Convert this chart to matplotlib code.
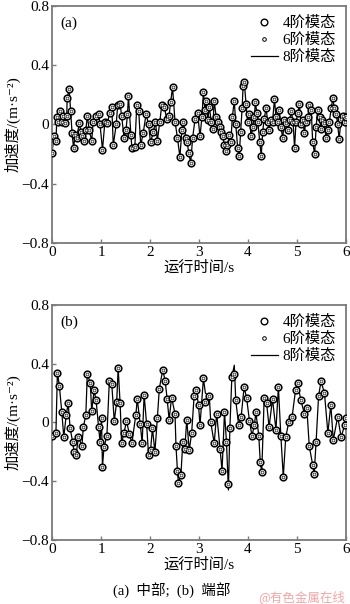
import numpy as np
import matplotlib
matplotlib.use("Agg")
import matplotlib.pyplot as plt
from matplotlib.lines import Line2D

plt.rcParams['font.family'] = ['Liberation Serif', 'Noto Sans CJK SC', 'DejaVu Sans']
plt.rcParams['axes.unicode_minus'] = True

# (a) 中部 acceleration, t in s, a in m/s^2
t_mid = [0.00, 0.04, 0.08, 0.10, 0.13, 0.16, 0.20, 0.23, 0.27, 0.30, 0.31, 0.35, 0.38, 0.41,
         0.44, 0.47, 0.50, 0.56, 0.59, 0.62, 0.65, 0.69, 0.72, 0.76, 0.81, 0.84, 0.90, 0.95,
         0.98, 1.03, 1.08, 1.13, 1.18, 1.22, 1.25, 1.31, 1.34, 1.39, 1.42, 1.47, 1.51, 1.54,
         1.56, 1.61, 1.63, 1.69, 1.73, 1.77, 1.81, 1.86, 1.92, 1.97, 2.01, 2.07, 2.11, 2.15,
         2.20, 2.24, 2.29, 2.34, 2.39, 2.42, 2.46, 2.51, 2.56, 2.61, 2.65, 2.68, 2.73, 2.76,
         2.79, 2.83, 2.87, 2.92, 2.97, 3.02, 3.06, 3.09, 3.12, 3.14, 3.18, 3.21, 3.25, 3.28,
         3.31, 3.35, 3.38, 3.42, 3.45, 3.48, 3.52, 3.55, 3.58, 3.62, 3.65, 3.68, 3.72, 3.75,
         3.79, 3.82, 3.85, 3.88, 3.90, 3.92, 3.96, 3.99, 4.03, 4.06, 4.10, 4.13, 4.15, 4.18,
         4.20, 4.24, 4.27, 4.30, 4.33, 4.37, 4.40, 4.43, 4.46, 4.50, 4.54, 4.57, 4.61, 4.64,
         4.67, 4.71, 4.74, 4.78, 4.81, 4.85, 4.88, 4.92, 4.95, 4.98, 5.02, 5.05, 5.08, 5.12,
         5.15, 5.18, 5.22, 5.25, 5.29, 5.32, 5.36, 5.39, 5.42, 5.46, 5.49, 5.52, 5.56, 5.59,
         5.63, 5.66, 5.70, 5.73, 5.76, 5.80, 5.83, 5.86, 5.90, 5.93, 5.97, 6.00]
a_mid = [-0.19, -0.08, -0.11, 0.05, 0.02, 0.09, 0.02, 0.06, 0.01, 0.06, 0.18, 0.24, 0.09, -0.06,
         -0.16, -0.07, -0.09, 0.01, -0.05, -0.08, -0.11, -0.04, 0.06, -0.04, -0.11, 0.02, 0.06, 0.07,
         0.00, -0.17, 0.02, 0.01, 0.08, 0.12, -0.14, 0.00, 0.13, 0.14, 0.06, -0.09, -0.04, 0.07,
         0.19, -0.07, -0.16, -0.15, 0.13, 0.09, -0.14, -0.06, 0.07, 0.00, -0.12, -0.05, 0.02, -0.11,
         0.02, 0.13, 0.12, 0.04, 0.06, 0.15, 0.25, 0.02, -0.09, -0.22, -0.04, 0.02, -0.09, -0.12,
         -0.19, -0.26, -0.09, 0.04, 0.08, -0.08, 0.05, 0.22, 0.10, 0.16, 0.03, 0.12, 0.02, -0.03,
         0.16, 0.05, 0.02, -0.02, -0.05, -0.08, -0.14, -0.18, -0.14, -0.07, -0.12, 0.05, 0.16, 0.00,
         -0.16, -0.21, -0.05, 0.11, 0.26, 0.29, 0.14, 0.02, 0.07, -0.08, -0.02, 0.05, 0.15, 0.08,
         0.02, -0.12, -0.21, -0.05, 0.04, 0.11, 0.02, -0.04, 0.03, 0.02, 0.17, 0.05, 0.02, 0.10,
         -0.02, -0.09, 0.03, 0.01, -0.04, 0.03, 0.09, 0.02, -0.16, 0.02, 0.08, 0.14, 0.00, 0.03,
         -0.06, 0.02, 0.05, 0.13, 0.10, -0.12, -0.20, -0.02, 0.10, 0.05, -0.03, 0.03, 0.01, -0.09,
         -0.04, 0.02, 0.11, 0.18, 0.11, 0.07, 0.00, -0.10, 0.04, 0.06, 0.02, 0.05]

# (b) 端部 acceleration
t_end = [0.00, 0.08, 0.11, 0.15, 0.20, 0.24, 0.29, 0.33, 0.37, 0.42, 0.45, 0.49, 0.54, 0.61,
         0.64, 0.69, 0.72, 0.78, 0.81, 0.86, 0.90, 0.95, 0.98, 1.01, 1.03, 1.06, 1.12, 1.17,
         1.22, 1.27, 1.32, 1.35, 1.39, 1.42, 1.47, 1.52, 1.58, 1.63, 1.71, 1.74, 1.80, 1.84,
         1.88, 1.93, 1.97, 2.01, 2.05, 2.10, 2.15, 2.19, 2.26, 2.31, 2.35, 2.39, 2.44, 2.51,
         2.53, 2.56, 2.58, 2.63, 2.67, 2.71, 2.75, 2.80, 2.85, 2.90, 2.94, 2.99, 3.02, 3.09,
         3.13, 3.21, 3.24, 3.31, 3.36, 3.43, 3.47, 3.52, 3.56, 3.60, 3.63, 3.67, 3.72, 3.75,
         3.81, 3.86, 3.92, 3.97, 4.03, 4.08, 4.13, 4.16, 4.22, 4.25, 4.28, 4.33, 4.38, 4.43,
         4.50, 4.57, 4.62, 4.67, 4.72, 4.77, 4.83, 4.90, 4.97, 5.01, 5.08, 5.15, 5.20, 5.25,
         5.32, 5.35, 5.39, 5.44, 5.49, 5.56, 5.63, 5.69, 5.74, 5.83, 5.90, 5.97, 6.00]
a_end = [-0.09, -0.07, 0.34, 0.25, 0.07, -0.10, 0.05, 0.13, -0.04, -0.13, -0.20, -0.22, -0.10, -0.16,
         -0.03, 0.05, 0.33, 0.27, 0.08, 0.22, 0.15, -0.03, -0.13, 0.03, -0.30, -0.17, -0.09, 0.28,
         0.26, 0.01, 0.14, 0.37, 0.13, -0.14, -0.07, 0.01, -0.08, -0.14, 0.05, 0.16, -0.01, -0.14,
         0.19, -0.01, -0.22, -0.19, -0.04, -0.20, 0.03, 0.23, 0.36, 0.28, 0.16, 0.02, 0.17, 0.06,
         -0.16, -0.33, -0.41, -0.36, -0.13, -0.18, 0.02, -0.19, -0.07, 0.18, 0.22, 0.12, -0.02, 0.30,
         0.14, 0.18, 0.00, -0.14, 0.06, -0.18, -0.33, 0.07, -0.13, -0.42, -0.04, 0.31, 0.33, 0.15,
         -0.02, 0.04, 0.24, 0.17, 0.01, -0.09, -0.02, 0.07, -0.09, -0.27, -0.34, 0.17, 0.13, -0.03,
         0.16, -0.05, 0.24, -0.09, -0.37, -0.10, 0.00, 0.04, 0.22, 0.27, 0.15, 0.06, 0.10, -0.16,
         -0.29, -0.35, -0.13, 0.18, 0.28, 0.20, -0.07, 0.12, -0.12, 0.04, -0.10, -0.02, 0.03]

# 8阶 curve overshoots the lower-order markers at a few spikes
peak8_mid = {3.92: 0.30}
peak8_end = {3.60: -0.46, 3.72: 0.39, 3.13: 0.20}

yticks = [-0.8, -0.4, 0, 0.4, 0.8]
ytick_labels = ['\u22120.8', '\u22120.4', '0', '0.4', '0.8']
xticks = [0, 1, 2, 3, 4, 5, 6]

fig = plt.figure(figsize=(3.5, 6.04), dpi=100)
ax1 = fig.add_axes([0.1486, 0.5977, 0.84, 0.3924])
ax2 = fig.add_axes([0.1486, 0.106, 0.84, 0.389])

frame_c = '#7a7a7a'


def draw(ax, t, a, peaks, tag):
    t = np.array(t)
    a = np.array(a)
    a8 = a.copy()
    for tp, v in peaks.items():
        a8[np.argmin(np.abs(t - tp))] = v
    ax.plot(t, a8, color='black', lw=0.9, zorder=2)
    ax.plot(t, a, ls='none', marker='o', ms=4.8, mfc='white', mec='black', mew=1.1, zorder=3)
    ax.plot(t, a, ls='none', marker='o', ms=2.0, mfc='white', mec='#333333', mew=0.6, zorder=4)
    ax.set_xlim(0, 6)
    ax.set_ylim(-0.8, 0.8)
    ax.set_xticks(xticks)
    ax.set_xticklabels([str(x) for x in xticks], fontsize=11)
    ax.set_yticks(yticks)
    ax.set_yticklabels(ytick_labels, fontsize=11)
    ax.tick_params(direction='in', length=3, width=1, color=frame_c, pad=2)
    for s in ax.spines.values():
        s.set_color(frame_c)
        s.set_linewidth(1.3)
    ax.set_xlabel('运行时间/s', fontsize=11, labelpad=1)
    ax.set_ylabel('加速度/(m·s\u207b\u00b2)', fontsize=11, labelpad=1)
    ax.text(0.03, 0.955, tag, transform=ax.transAxes, fontsize=11, va='top', ha='left')
    handles = [
        Line2D([], [], ls='none', marker='o', ms=4.8, mfc='white', mec='black', mew=1.0),
        Line2D([], [], ls='none', marker='o', ms=2.6, mfc='white', mec='black', mew=0.7),
        Line2D([], [], color='black', lw=0.9),
    ]
    ax.legend(handles, ['4阶模态', '6阶模态', '8阶模态'], loc='upper right',
              frameon=False, fontsize=11, handlelength=1.8, handletextpad=0.3,
              labelspacing=0.2, borderaxespad=0.45, borderpad=0.2)


draw(ax1, t_mid, a_mid, peak8_mid, '(a)')
draw(ax2, t_end, a_end, peak8_end, '(b)')

fig.text(0.49, 0.022, '(a)  中部;  (b)  端部', ha='center', va='center', fontsize=10.5)
fig.text(0.985, 0.012, '@有色金属在线', ha='right', va='center', fontsize=9,
         color='#f2a6a6', family=['Noto Sans CJK SC', 'DejaVu Sans'])

fig.savefig('out.png', dpi=100)
